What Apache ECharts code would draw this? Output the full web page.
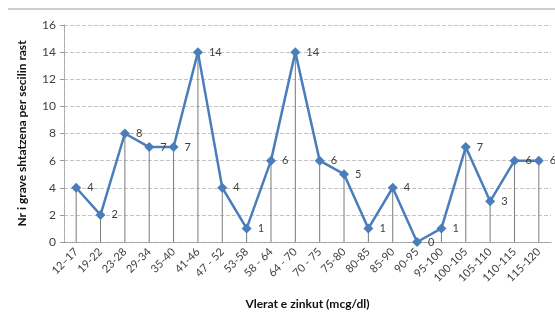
<!DOCTYPE html>
<html><head><meta charset="utf-8">
<script src="https://cdn.jsdelivr.net/npm/echarts@6/dist/echarts.min.js"></script>
<style>html,body{margin:0;padding:0;background:#fff}#c{width:555px;height:332px}</style>
</head><body><div id="c"></div>
<script>
var categories = ['12–17','19-22','23-28','29-34','35-40','41-46','47 - 52','53-58','58 - 64','64 - 70','70 - 75','75-80','80-85','85-90','90-95','95-100','100-105','105-110','110-115','115-120'];
var values = [4,2,8,7,7,14,4,1,6,14,6,5,1,4,0,1,7,3,6,6];
var yTicks = [0,2,4,6,8,10,12,14,16];
var xTitle = 'Vlerat e zinkut (mcg/dl)';
var yTitle = 'Nr i grave shtatzena per secilin rast';

var font = 'Lato, "Open Sans", sans-serif';
var chart = echarts.init(document.getElementById('c'), null, {renderer:'canvas'});
chart.setOption({
  animation:false,
  backgroundColor:'#fff',
  grid:{left:64,right:4,top:25,bottom:90,containLabel:false},
  graphic:[{type:'line',shape:{x1:8,y1:9,x2:555,y2:9},style:{stroke:'#9a9a9a',lineWidth:1}}],
  xAxis:{
    type:'category',data:categories,boundaryGap:true,
    name:xTitle,nameLocation:'middle',nameGap:56,
    nameTextStyle:{fontFamily:font,fontSize:12,fontWeight:'bold',color:'#111'},
    axisLine:{lineStyle:{color:'#9a9a9a',type:'dotted'}},
    axisTick:{show:false},
    axisLabel:{rotate:45,interval:0,fontFamily:font,fontSize:11,color:'#404040',margin:8}
  },
  yAxis:{
    type:'value',min:yTicks[0],max:yTicks[yTicks.length-1],interval:2,
    name:yTitle,nameLocation:'middle',nameGap:36,
    nameTextStyle:{fontFamily:font,fontSize:12,fontWeight:'bold',color:'#111'},
    axisLine:{show:true,lineStyle:{color:'#9a9a9a',type:'dotted'}},
    axisTick:{show:true,length:4,lineStyle:{color:'#9a9a9a'}},
    axisLabel:{fontFamily:font,fontSize:12,color:'#404040',margin:8},
    splitLine:{lineStyle:{color:'#c4c4c4',type:'dashed',width:1}}
  },
  series:[
    {type:'bar',data:values,barWidth:1,itemStyle:{color:'#7a7a7a'},silent:true,z:1},
    {type:'line',data:values,symbol:'diamond',symbolSize:10,z:3,
     lineStyle:{color:'#4a7ebb',width:2.5},itemStyle:{color:'#4a7ebb'},
     label:{show:true,position:'right',distance:6,fontFamily:font,fontSize:11,color:'#404040'}}
  ]
});
</script></body></html>
